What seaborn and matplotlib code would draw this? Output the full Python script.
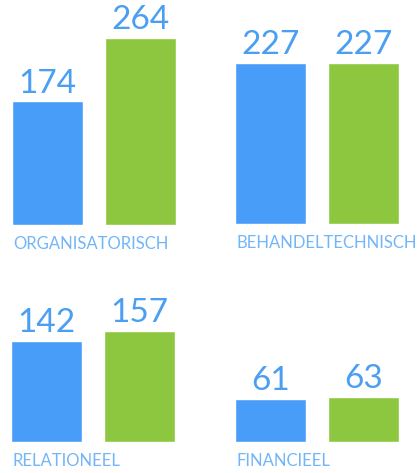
"""Four small paired bar panels (blue vs green) with value labels."""

import matplotlib
matplotlib.use("Agg")
import matplotlib.pyplot as plt
import seaborn as sns

categories = ["ORGANISATORISCH", "BEHANDELTECHNISCH", "RELATIONEEL", "FINANCIEEL"]
series = ["blauw", "groen"]
blue_values = [174, 227, 142, 61]
green_values = [264, 227, 157, 63]

BLUE = "#479df8"
GREEN = "#8dc63f"
VALUE_COLOR = "#4a9ff2"
LABEL_COLOR = "#72b6f8"

W, H = 420, 473
DPI = 100
PX_PER_UNIT = 0.71
BAR_W = 71 / 93

sns.set_style("white")
plt.rcParams["font.family"] = ["Lato", "DejaVu Sans"]

fig = plt.figure(figsize=(W / DPI, H / DPI), dpi=DPI)

# (left px, bottom px from top, axes height px)
panels = [(12, 225, 225), (235, 224, 224), (11, 442, 200), (235, 442, 200)]

for i, (left, bottom, height) in enumerate(panels):
    width = 164
    ax = fig.add_axes([left / W, 1 - bottom / H, width / W, height / H])
    sns.barplot(
        x=series,
        y=[blue_values[i], green_values[i]],
        hue=series,
        palette=[BLUE, GREEN],
        width=BAR_W,
        saturation=1,
        legend=False,
        ax=ax,
    )
    ax.set_xlim(-BAR_W / 2, 1 + BAR_W / 2)
    ax.set_ylim(0, height / PX_PER_UNIT)
    for container in ax.containers:
        ax.bar_label(container, padding=2, fontsize=24, color=VALUE_COLOR)
    ax.axis("off")
    ax.patch.set_alpha(0)
    fig.text(left / W + 1 / W, 1 - (bottom + 24) / H, categories[i],
             fontsize=12, color=LABEL_COLOR, va="baseline", ha="left")

fig.savefig("out.png", dpi=DPI)
